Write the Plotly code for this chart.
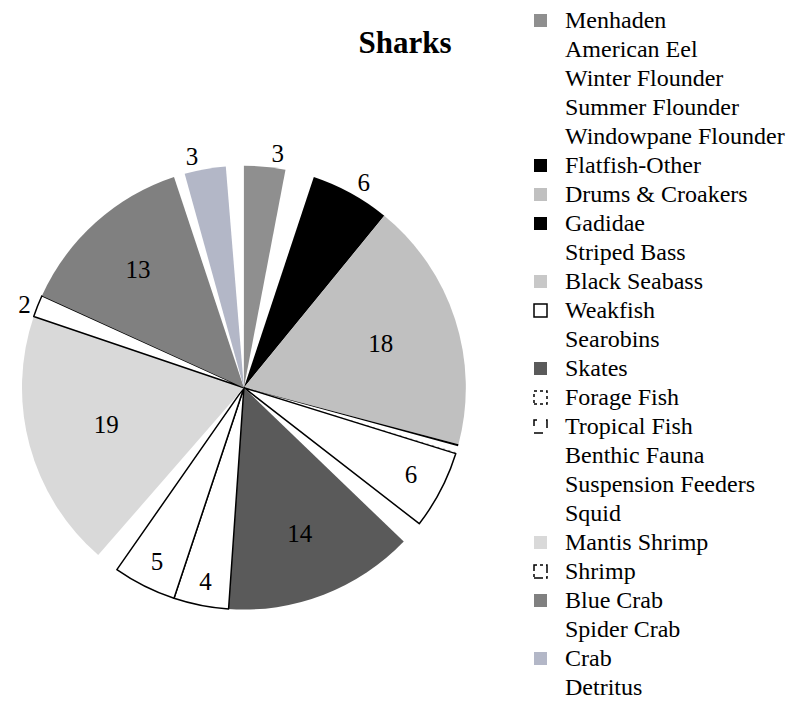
import plotly.graph_objects as go

# prey items, in the order of the legend (clockwise from 12 o'clock)
labels = [
    "Menhaden", "American Eel", "Winter Flounder", "Summer Flounder",
    "Windowpane Flounder", "Flatfish-Other", "Drums & Croakers", "Gadidae",
    "Striped Bass", "Black Seabass", "Weakfish", "Searobins", "Skates",
    "Forage Fish", "Tropical Fish", "Benthic Fauna", "Suspension Feeders",
    "Squid", "Mantis Shrimp", "Shrimp", "Blue Crab", "Spider Crab", "Crab",
    "Detritus",
]
# percent of diet
values = [
    3.0, 0.5, 0.5, 0.6,
    0.5, 5.8, 18.2, 0.15,
    0.45, 0.1, 5.7, 1.7, 13.9,
    4.0, 4.6, 0.6, 0.5,
    0.6, 18.8, 1.6, 13.1, 0.8, 3.0,
    1.3,
]
# which slices carry a data label
shown = [
    True, False, False, False,
    False, True, True, False,
    False, False, True, False, True,
    True, True, False, False,
    False, True, True, True, False, True,
    False,
]

NONE = "rgba(0,0,0,0)"
fills = [
    "#8f8f8f", NONE, NONE, NONE,
    NONE, "#000000", "#c0c0c0", "#000000",
    NONE, "#c8c8c8", "#ffffff", NONE, "#5a5a5a",
    "#ffffff", "#ffffff", NONE, NONE,
    NONE, "#d9d9d9", "#ffffff", "#808080", NONE, "#b3b7c7",
    NONE,
]
# outline dash used for the legend keys (slices only take solid lines)
dashes = {"Weakfish": "solid", "Forage Fish": "dot", "Tropical Fish": "dash",
          "Shrimp": "dashdot"}
line_colors = ["#000000" if lab in dashes else NONE for lab in labels]
line_widths = [1.5 if lab in dashes else 0 for lab in labels]
outside = {"Menhaden", "Flatfish-Other", "Shrimp", "Crab"}
text_pos = ["outside" if lab in outside else "inside" for lab in labels]
templates = ["%{value:.0f}" if s else "" for s in shown]
patterns = ["/" if lab == "Black Seabass" else "" for lab in labels]

FONT = "Liberation Serif, Times New Roman, serif"
W, H = 799, 712

fig = go.Figure(
    go.Pie(
        labels=labels,
        values=values,
        sort=False,
        direction="clockwise",
        rotation=0,
        texttemplate=templates,
        textposition=text_pos,
        insidetextorientation="horizontal",
        textfont={"family": FONT, "size": 25, "color": "#000000"},
        marker={
            "colors": fills,
            "line": {"color": line_colors, "width": line_widths},
            "pattern": {"shape": patterns, "fgcolor": "#7f7f7f", "size": 5},
        },
        domain={"x": [0.0175, 0.573], "y": [0.155, 0.7785]},
        hoverinfo="label+value",
        showlegend=False,
    )
)

# hand-made legend so the rows can be as tight as in the original
row0, step = 12, 29
for i, lab in enumerate(labels):
    yc = row0 + step * i
    fig.add_annotation(
        x=555 / W, y=1 - yc / H, xref="paper", yref="paper",
        text=lab, showarrow=False, xanchor="left", yanchor="middle",
        font={"family": FONT, "size": 24, "color": "#000000"},
    )
    if fills[i] == NONE:
        continue
    boxed = lab in dashes
    fig.add_shape(
        type="rect", xref="paper", yref="paper",
        x0=526 / W, x1=539 / W, y0=1 - (yc + 7) / H, y1=1 - (yc - 6) / H,
        fillcolor=fills[i],
        line={"color": "#000000" if boxed else fills[i],
              "width": 1.5 if boxed else 0,
              "dash": dashes.get(lab, "solid")},
    )

fig.update_layout(
    width=W,
    height=H,
    paper_bgcolor="white",
    plot_bgcolor="white",
    margin={"l": 0, "r": 0, "t": 0, "b": 0},
    title={
        "text": "<b>Sharks</b>",
        "x": 397 / W,
        "xanchor": "center",
        "y": 1 - 34 / H,
        "yanchor": "middle",
        "font": {"family": FONT, "size": 31, "color": "#000000"},
    },
)

fig.write_html("out.html")
